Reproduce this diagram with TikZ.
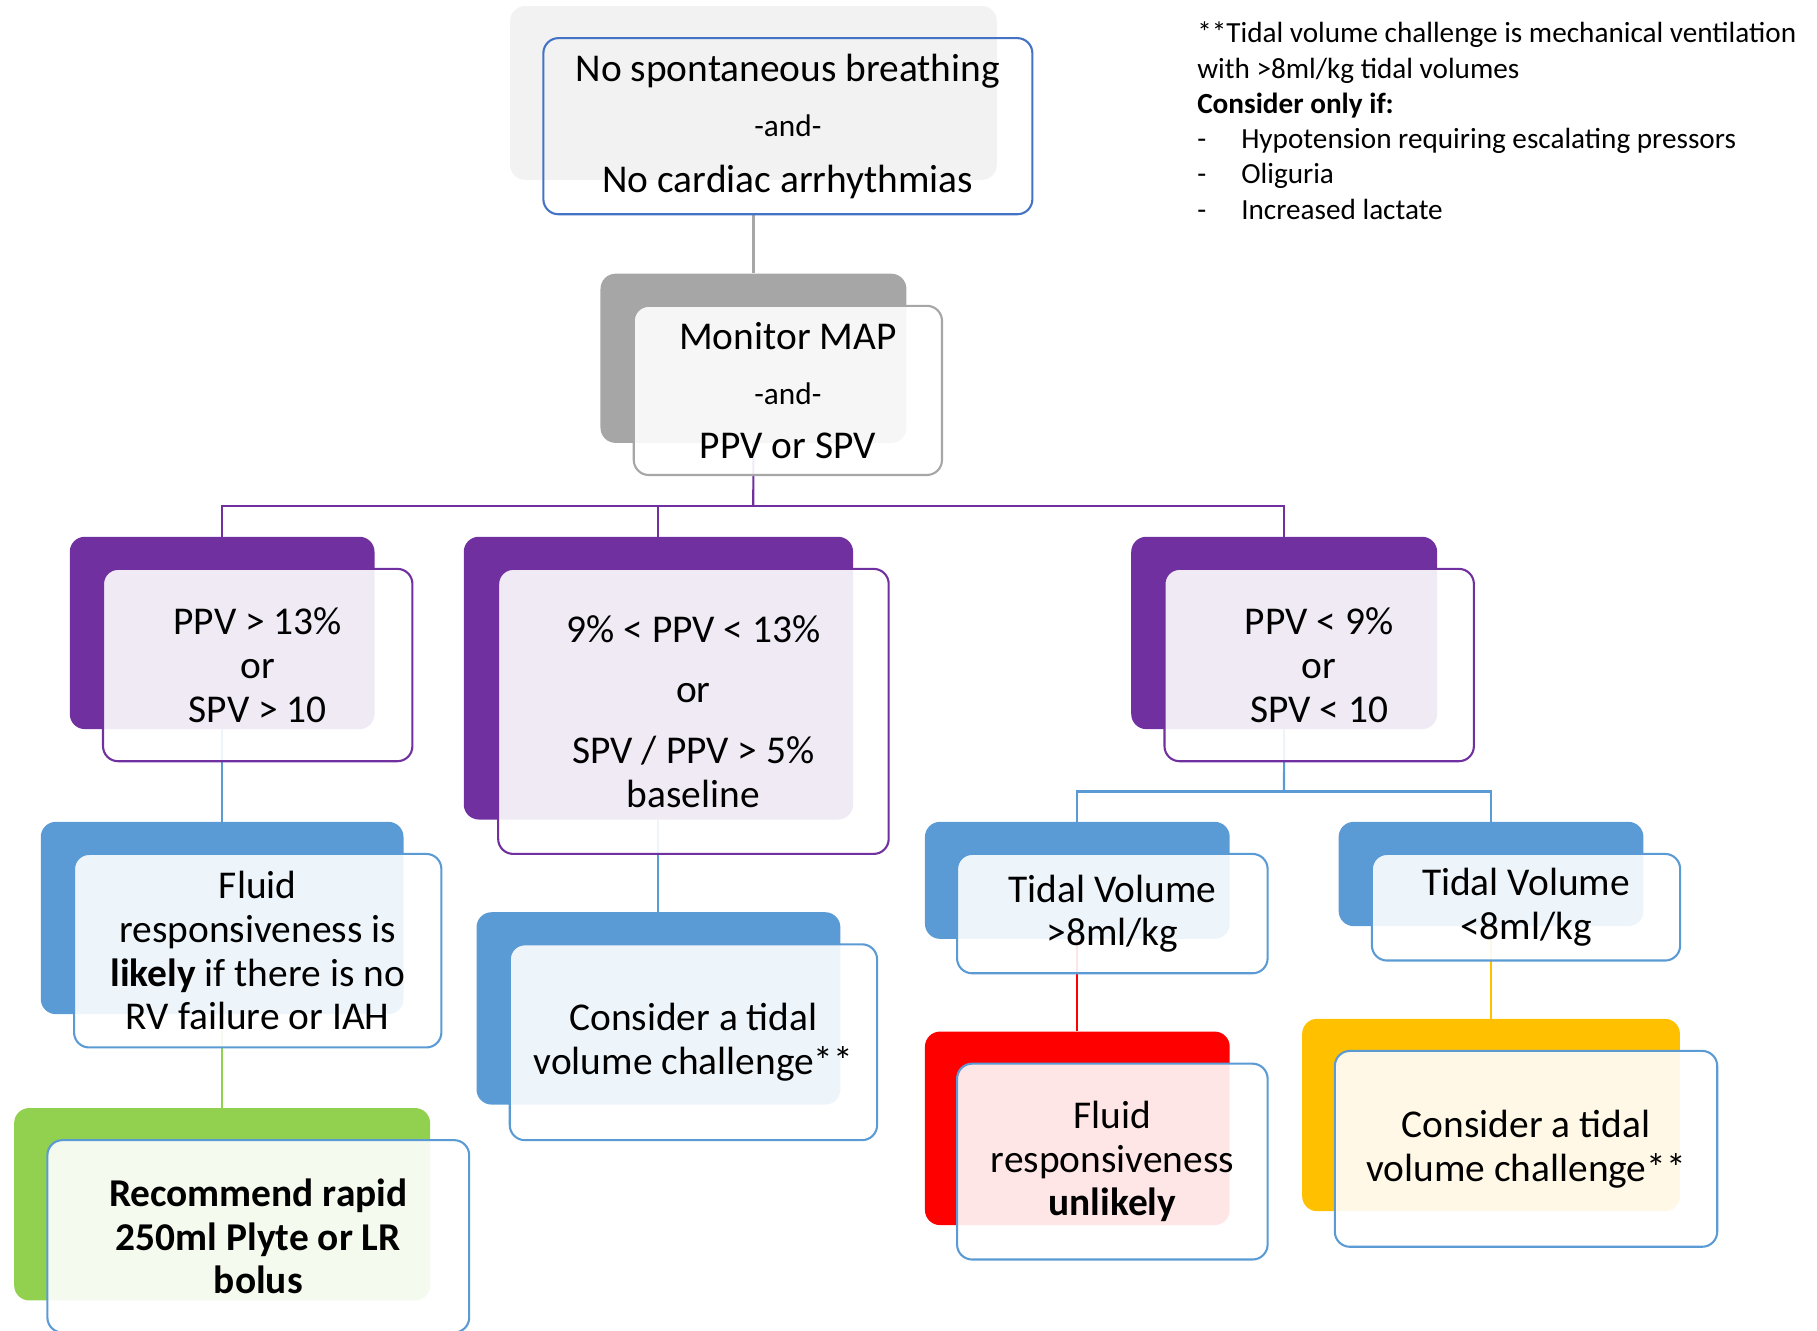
\documentclass[tikz,border=0pt]{standalone}
\usepackage{fontspec}
\setmainfont{Carlito}
\definecolor{cgrayl}{HTML}{F2F2F2}
\definecolor{cgray}{HTML}{A6A6A6}
\definecolor{cblued}{HTML}{4472C4}
\definecolor{cpurp}{HTML}{7030A0}
\definecolor{cblue}{HTML}{5B9BD5}
\definecolor{cgreen}{HTML}{92D050}
\definecolor{cred}{HTML}{FF0000}
\definecolor{cyel}{HTML}{FFC000}
\newcommand\bxfont{\fontsize{34}{37.8}\selectfont}
\newcommand\smfont{\fontsize{27}{37.8}\selectfont}
\newcommand\notefont{\fontsize{25.2}{30.4}\selectfont}
\pgfdeclarelayer{bg}
\pgfsetlayers{bg,main}
\begin{document}
\begin{tikzpicture}[x=1pt,y=-1pt,
  backbox/.style={rectangle, rounded corners=13, anchor=north west, inner sep=0, fill=#1},
  frontbox/.style={rectangle, rounded corners=13, anchor=north west, inner sep=0, draw=#1, line width=1.8, fill=white, fill opacity=0.9, text opacity=1, align=center, font=\bxfont},
  conn/.style={line width=1.8, draw=#1},
]
\useasboundingbox (0,0) rectangle (1568,1148);

% back boxes
\node[backbox=cgrayl, minimum width=420, minimum height=150] (tb) at (440,5) {};
\node[backbox=cgray, minimum width=264, minimum height=146] (mb) at (518,236) {};
\node[backbox=cpurp, minimum width=263, minimum height=166] (p1b) at (60,463) {};
\node[backbox=cpurp, minimum width=336, minimum height=244] (p2b) at (400,463) {};
\node[backbox=cpurp, minimum width=264, minimum height=166] (p3b) at (976,463) {};
\node[backbox=cblue, minimum width=313, minimum height=166] (flb) at (35,709) {};
\node[backbox=cblue, minimum width=314, minimum height=166] (c1b) at (411,787) {};
\node[backbox=cblue, minimum width=263, minimum height=101] (t1b) at (798,709) {};
\node[backbox=cblue, minimum width=263, minimum height=90] (t2b) at (1155,709) {};
\node[backbox=cgreen, minimum width=359, minimum height=166] (gb) at (12,956) {};
\node[backbox=cred, minimum width=263, minimum height=167] (rb) at (798,890) {};
\node[backbox=cyel, minimum width=326, minimum height=166] (yb) at (1123.5,879) {};

% front boxes
\node[frontbox=cblued, fill=none, minimum width=422, minimum height=152] (tf) at (468,32)
  {No spontaneous breathing\\[10pt]{\smfont -and-}\\[10pt]No cardiac arrhythmias};
\node[frontbox=cgray, minimum width=266, minimum height=146] (mf) at (546,263)
  {Monitor MAP\\[10.5pt]{\smfont -and-}\\[8.5pt]PPV or SPV};
\node[frontbox=cpurp, minimum width=267, minimum height=166] (p1f) at (88,490)
  {PPV > 13\%\\or\\SPV > 10};
\node[frontbox=cpurp, minimum width=337, minimum height=246] (p2f) at (429,490)
  {9\% < PPV < 13\%\\[14.5pt]or\\[14.5pt]SPV / PPV > 5\%\\baseline};
\node[frontbox=cpurp, minimum width=267, minimum height=166] (p3f) at (1004,490)
  {PPV < 9\%\\or\\SPV < 10};
\node[frontbox=cblue, minimum width=317, minimum height=167] (flf) at (63,736)
  {Fluid\\responsiveness is\\\textbf{likely} if there is no\\RV failure or IAH};
\node[frontbox=cblue, minimum width=317, minimum height=169] (c1f) at (439,814)
  {Consider a tidal\\volume challenge**};
\node[frontbox=cblue, minimum width=268, minimum height=103] (t1f) at (825,736)
  {Tidal Volume\\>8ml/kg};
\node[frontbox=cblue, minimum width=266, minimum height=92] (t2f) at (1183,736)
  {Tidal Volume\\<8ml/kg};
\node[frontbox=cblue, font=\bxfont\bfseries, minimum width=364, minimum height=166] (gf) at (40,983)
  {Recommend rapid\\250ml Plyte or LR\\bolus};
\node[frontbox=cblue, minimum width=268, minimum height=169] (rf) at (825,917)
  {Fluid\\responsiveness\\\textbf{unlikely}};
\node[frontbox=cblue, minimum width=330, minimum height=169] (yf) at (1151,906)
  {Consider a tidal\\volume challenge**};

% note
\node[anchor=north west, inner sep=0, align=left, font=\notefont] (note) at (1033,19)
  {**Tidal volume challenge is mechanical ventilation\\
   with >8ml/kg tidal volumes\\
   \textbf{Consider only if:}\\
   \makebox[38pt][l]{-}Hypotension requiring escalating pressors\\
   \makebox[38pt][l]{-}Oliguria\\
   \makebox[38pt][l]{-}Increased lactate};

% connectors
\coordinate (pbus) at (650,437);
\coordinate (bbus) at (1108,683);
\begin{pgfonlayer}{bg}
\draw[conn=cgray] (tb.center |- tf.south) -- (mb.north);
\draw[conn=cpurp] (mb.south) -- (pbus);
\draw[conn=cpurp] (p1b.north) |- (pbus) -| (p3b.north);
\draw[conn=cpurp] (pbus) -| (p2b.north);
\draw[conn=cblue] (p1b.south) -- (flb.north);
\draw[conn=cblue] (p2b.south) -- (c1b.north);
\draw[conn=cblue] (p3b.south) -- (bbus);
\draw[conn=cblue] (t1b.north) |- (bbus) -| (t2b.north);
\draw[conn=cgreen] (flb.south) -- (gb.north);
\draw[conn=cred] (t1b.south) -- (rb.north);
\draw[conn=cyel] (t2b.south) -- (yb.north);
\end{pgfonlayer}
\end{tikzpicture}
\end{document}
